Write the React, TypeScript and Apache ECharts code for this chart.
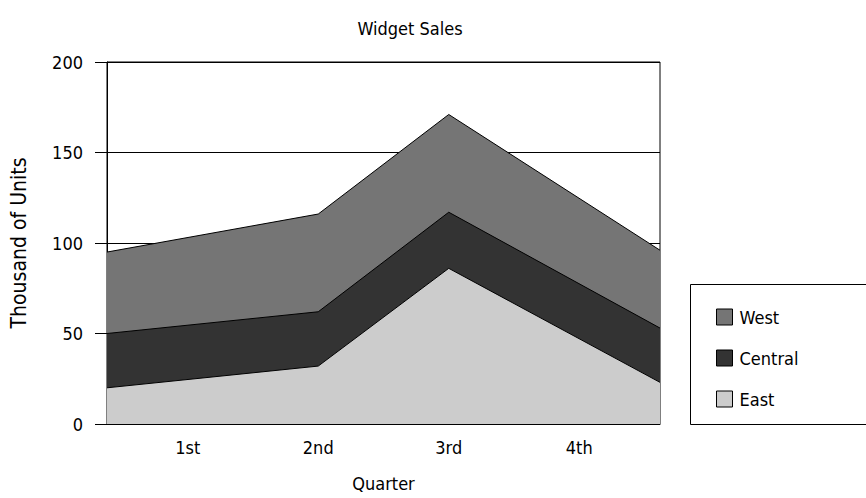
import React, { useEffect, useRef } from "react";
import * as echarts from "echarts";

const quarterLabels = ["1st", "2nd", "3rd", "4th"];
const labelPositions = [14.6, 38.2, 61.8, 85.4];
const pointPositions = [0, 38.2, 61.8, 100];
const eastValues = [20, 32, 86, 23];
const centralValues = [30, 30, 31, 30];
const westValues = [45, 54, 54, 43];
const yTicks = [0, 50, 100, 150, 200];

const FONT = "'Liberation Sans Narrow', 'DejaVu Sans Condensed', 'Roboto Condensed', Roboto, sans-serif";

export default function App() {
  const ref = useRef<HTMLDivElement>(null);
  useEffect(() => {
    document.body.style.margin = "0";
    if (!ref.current) return;
    const chart = echarts.init(ref.current, undefined, { renderer: "svg" });
    const eastTop = eastValues.map((v) => v);
    const centralTop = centralValues.map((v, i) => v + eastTop[i]);
    const westTop = westValues.map((v, i) => v + centralTop[i]);
    const mk = (name: string, tops: number[], color: string, z: number) => ({
      name,
      type: "line",
      data: tops.map((v, i) => [pointPositions[i], v]),
      showSymbol: false,
      symbol: "none",
      z,
      lineStyle: { color: "#000", width: 1 },
      itemStyle: { color, borderColor: "#000", borderWidth: 1 },
      areaStyle: { color, opacity: 1, origin: "start" },
    });
    chart.setOption({
      animation: false,
      backgroundColor: "#fff",
      textStyle: { fontFamily: FONT },
      title: {
        text: "Widget Sales",
        left: 405,
        top: 14,
        textAlign: "center",
        textStyle: { fontFamily: FONT, fontSize: 18, fontWeight: "normal", color: "#000" },
      },
      grid: {
        left: 104,
        right: 206,
        top: 62,
        bottom: 74,
        show: true,
        borderColor: "#000",
        borderWidth: 1,
        backgroundColor: "transparent",
      },
      legend: {
        orient: "vertical",
        left: 711,
        top: 303,
        itemWidth: 16,
        itemHeight: 16,
        itemGap: 23,
        icon: "rect",
        data: ["West", "Central", "East"],
        textStyle: { fontFamily: FONT, fontSize: 18, color: "#000", padding: [0, 0, 0, 2] },
        itemStyle: { borderColor: "#000", borderWidth: 1 },
      },
      graphic: [
        {
          type: "rect",
          shape: { x: 690.5, y: 284.5, width: 200, height: 140 },
          style: { fill: "none", stroke: "#000", lineWidth: 1 },
          z: -1,
        },
      ],
      xAxis: {
        type: "value",
        min: 0,
        max: 100,
        name: "Quarter",
        nameLocation: "middle",
        nameGap: 50,
        nameTextStyle: { fontFamily: FONT, fontSize: 18, color: "#000" },
        axisLine: { show: true, lineStyle: { color: "#000", width: 1 } },
        axisTick: { show: false },
        splitLine: { show: false },
        axisLabel: {
          customValues: labelPositions,
          formatter: (v: number) => {
            const i = labelPositions.findIndex((p) => Math.abs(p - v) < 1e-6);
            return i >= 0 ? quarterLabels[i] : "";
          },
          margin: 14,
          fontFamily: FONT,
          fontSize: 18,
          color: "#000",
        },
      },
      yAxis: {
        type: "value",
        min: yTicks[0],
        max: yTicks[yTicks.length - 1],
        interval: 50,
        name: "Thousand of Units",
        nameLocation: "middle",
        nameGap: 78,
        nameRotate: 90,
        nameTextStyle: { fontFamily: FONT, fontSize: 21, color: "#000" },
        axisLine: { show: true, lineStyle: { color: "#000", width: 1 } },
        axisTick: { show: true, length: 12, lineStyle: { color: "#000" } },
        axisLabel: { margin: 24, fontFamily: FONT, fontSize: 18, color: "#000" },
        splitLine: { show: true, lineStyle: { color: "#000", width: 1 } },
      },
      series: [
        mk("West", westTop, "#757575", 2),
        mk("Central", centralTop, "#333333", 3),
        mk("East", eastTop, "#cccccc", 4),
      ],
    });
    return () => chart.dispose();
  }, []);
  return <div ref={ref} style={{ width: 866, height: 498 }} />;
}
